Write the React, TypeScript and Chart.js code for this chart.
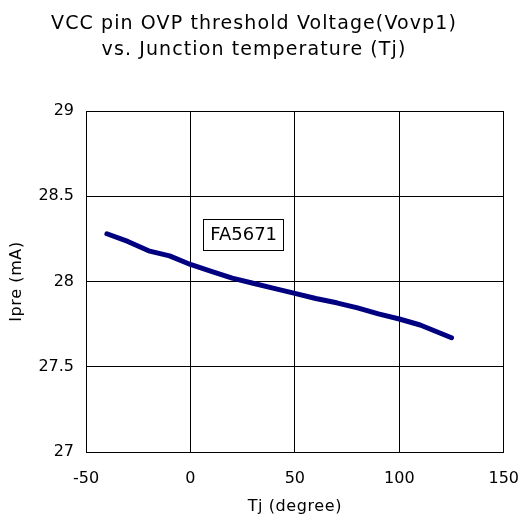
import React, { useEffect, useRef } from "react";
import { Chart, registerables } from "chart.js";

Chart.register(...registerables);

const titleLines = ["VCC pin OVP threshold Voltage(Vovp1)", "vs. Junction temperature (Tj)"];
const xTitle = "Tj (degree)";
const yTitle = "Ipre (mA)";
const deviceLabel = "FA5671";

const tjValues = [-40, -30, -20, -10, 0, 10, 20, 30, 40, 50, 60, 70, 80, 90, 100, 110, 125];
const ipreValues = [28.28, 28.235, 28.18, 28.15, 28.1, 28.06, 28.02, 27.99, 27.96, 27.93, 27.9, 27.875, 27.845, 27.81, 27.78, 27.745, 27.67];

const xMin = -50;
const xMax = 150;
const xStep = 50;
const yMin = 27;
const yMax = 29;
const yStep = 0.5;

const labelAt = { x: 25, y: 28.275 };

const FONT = "'DejaVu Sans', Verdana, sans-serif";

const textPlugin = {
  id: "customText",
  afterDatasetsDraw(chart: any) {
    const { ctx, scales } = chart;
    ctx.save();
    const cx = scales.x.getPixelForValue(labelAt.x);
    const cy = scales.y.getPixelForValue(labelAt.y);
    const w = 80;
    const h = 31;
    const bx = Math.round(cx - w / 2) + 0.5;
    const by = Math.round(cy - h / 2) + 0.5;
    ctx.fillStyle = "#fff";
    ctx.fillRect(bx, by, w, h);
    ctx.strokeStyle = "#000";
    ctx.lineWidth = 1;
    ctx.strokeRect(bx, by, w, h);
    ctx.fillStyle = "#000";
    ctx.font = `18px ${FONT}`;
    ctx.textAlign = "center";
    ctx.textBaseline = "middle";
    ctx.fillText(deviceLabel, cx + 1, cy + 1);
    ctx.restore();
  },
  afterDraw(chart: any) {
    const { ctx, chartArea } = chart;
    ctx.save();
    ctx.fillStyle = "#000";
    ctx.textAlign = "center";
    ctx.textBaseline = "alphabetic";
    ctx.font = `19px ${FONT}`;
    (ctx as any).letterSpacing = "1.1px";
    const titleCenter = 254;
    titleLines.forEach((line, i) => {
      ctx.fillText(line, titleCenter, 28.5 + i * 26);
    });
    ctx.font = `16px ${FONT}`;
    (ctx as any).letterSpacing = "0.6px";
    const xc = (chartArea.left + chartArea.right) / 2;
    ctx.fillText(xTitle, xc, 511);
    const yc = (chartArea.top + chartArea.bottom) / 2;
    ctx.translate(21, yc);
    ctx.rotate(-Math.PI / 2);
    ctx.fillText(yTitle, 0, 0);
    ctx.restore();
  },
};

export default function App() {
  const ref = useRef<HTMLCanvasElement>(null);

  useEffect(() => {
    if (!ref.current) return;
    const chart = new Chart(ref.current, {
      type: "line",
      data: {
        datasets: [
          {
            data: tjValues.map((t, i) => ({ x: t, y: ipreValues[i] })),
            borderColor: "#000080",
            borderWidth: 5,
            pointRadius: 0,
            tension: 0,
            borderCapStyle: "round",
            borderJoinStyle: "round",
            fill: false,
          },
        ],
      },
      options: {
        animation: false,
        responsive: false,
        maintainAspectRatio: false,
        layout: { padding: { left: 4, right: 0, top: 111, bottom: 0 } },
        plugins: {
          legend: { display: false },
          tooltip: { enabled: false },
          title: { display: false },
        },
        scales: {
          x: {
            type: "linear",
            min: xMin,
            max: xMax,
            ticks: {
              stepSize: xStep,
              color: "#000",
              font: { family: FONT, size: 16 },
              padding: 17,
              maxRotation: 0,
            },
            grid: { color: "#000", lineWidth: 1, drawTicks: false },
            border: { color: "#000", width: 1 },
            afterFit(scale: any) {
              scale.height = 66;
            },
          },
          y: {
            type: "linear",
            min: yMin,
            max: yMax,
            ticks: {
              stepSize: yStep,
              color: "#000",
              font: { family: FONT, size: 16 },
              padding: 12,
              callback: (v: any) => `${v}`,
            },
            grid: { color: "#000", lineWidth: 1, drawTicks: false },
            border: { color: "#000", width: 1 },
            afterFit(scale: any) {
              scale.width = 82;
            },
          },
        },
      },
      plugins: [textPlugin],
    });
    return () => chart.destroy();
  }, []);

  return (
    <div style={{ position: "fixed", left: 0, top: 0, width: 530, height: 518, overflow: "hidden", background: "#fff" }}>
      <canvas ref={ref} width={536} height={518} style={{ width: 536, height: 518, display: "block" }} />
    </div>
  );
}
